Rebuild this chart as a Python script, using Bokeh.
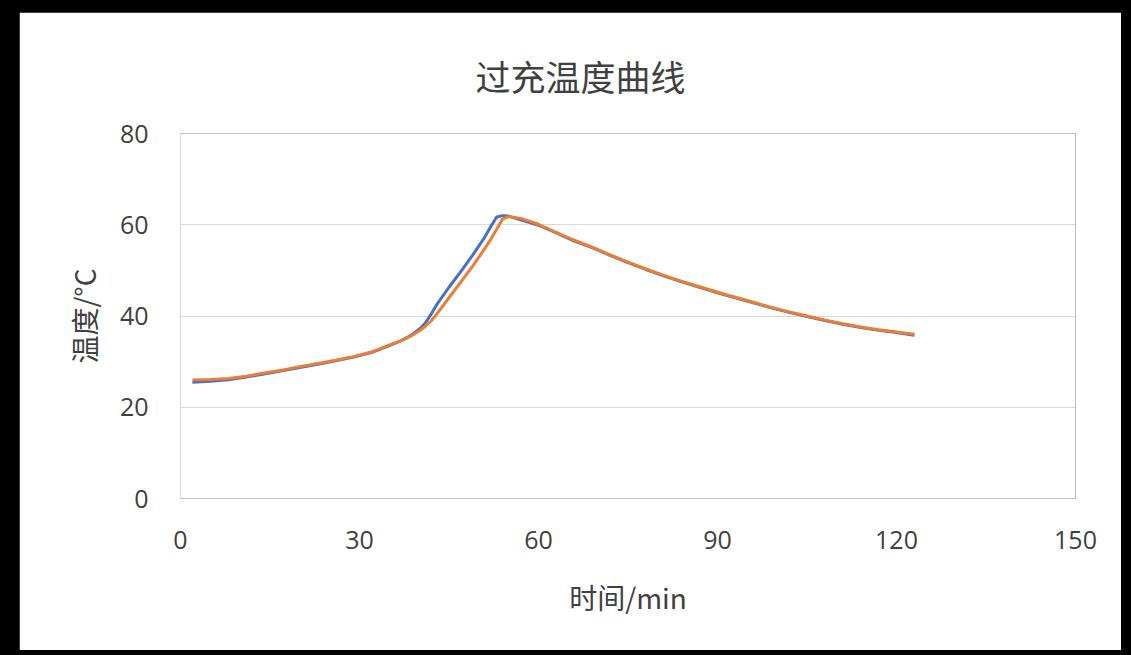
from bokeh.plotting import figure
from bokeh.models import FixedTicker, Range1d
from bokeh.embed import file_html
from bokeh.resources import INLINE

# ---- data ----
time_min = [2, 5, 8, 11, 14, 17, 20, 23, 26, 29, 32, 35, 37, 38, 39, 40, 41, 42, 43, 45, 47, 49,
            51, 52, 53, 54, 55, 57, 60, 63, 66, 69, 72, 75, 78, 81, 84, 87, 90, 93, 96, 99,
            102, 105, 108, 111, 114, 117, 120, 123]
temp_blue = [25.5, 25.7, 26.0, 26.6, 27.3, 28.0, 28.7, 29.4, 30.2, 31.0, 32.0, 33.5, 34.6, 35.3,
             36.1, 37.1, 38.4, 40.4, 42.6, 46.3, 49.8, 53.4, 57.3, 59.6, 61.7, 62.0, 61.9, 61.1,
             59.9, 58.2, 56.4, 55.0, 53.3, 51.7, 50.2, 48.8, 47.5, 46.3, 45.1, 44.0, 42.9, 41.8,
             40.8, 39.9, 39.0, 38.2, 37.5, 36.9, 36.4, 35.8]
temp_orange = [26.0, 26.1, 26.3, 26.8, 27.5, 28.1, 28.9, 29.6, 30.3, 31.1, 32.1, 33.6, 34.6, 35.2,
               35.9, 36.7, 37.7, 38.9, 40.5, 44.0, 47.5, 51.0, 54.8, 56.8, 59.0, 61.3, 61.8, 61.4,
               60.1, 58.3, 56.6, 55.1, 53.4, 51.8, 50.3, 48.9, 47.6, 46.4, 45.2, 44.1, 43.0, 41.9,
               40.9, 40.0, 39.1, 38.3, 37.6, 37.0, 36.5, 36.0]
x_ticks = [0, 30, 60, 90, 120, 150]
y_ticks = [0, 20, 40, 60, 80]

title_text = "过充温度曲线"
x_label = "时间/min"
y_label = "温度/°C"

FONT = "Noto Sans CJK SC"
NUM_FONT = "Open Sans"
TXT = "#404040"
GRID = "#d9d9d9"

p = figure(width=1102, height=638, output_backend="svg", toolbar_location=None,
           x_range=Range1d(0, 150), y_range=Range1d(0, 80),
           min_border_left=161, min_border_right=46, min_border_top=121, min_border_bottom=152)
p.background_fill_color = "white"
p.border_fill_color = "white"
p.outline_line_color = None

p.title.text = title_text
p.title.align = "left"
p.title.offset = 295
p.title.standoff = 62
p.title.vertical_align = "top"
p.title.text_font = FONT
p.title.text_font_size = "35px"
p.title.text_font_style = "normal"
p.title.text_color = TXT

p.xaxis.ticker = FixedTicker(ticks=x_ticks)
p.yaxis.ticker = FixedTicker(ticks=y_ticks)
for ax in (p.xaxis[0], p.yaxis[0]):
    ax.major_tick_line_color = None
    ax.minor_tick_line_color = None
    ax.major_label_text_font = NUM_FONT
    ax.major_label_text_font_size = "25px"
    ax.major_label_text_color = TXT
    ax.axis_label_text_font = FONT
    ax.axis_label_text_font_size = "28px"
    ax.axis_label_text_font_style = "normal"
    ax.axis_label_text_color = TXT

p.xaxis.axis_line_color = None
p.xaxis.major_label_standoff = 26
p.xaxis.axis_label = x_label
p.xaxis.axis_label_standoff = 25

p.yaxis.axis_line_color = GRID
p.yaxis.major_label_standoff = 26
p.yaxis.axis_label = y_label
p.yaxis.axis_label_standoff = 13

p.xgrid.grid_line_color = None
p.ygrid.grid_line_color = GRID
p.ygrid.grid_line_width = 1

p.line(time_min, temp_blue, line_color="#4472C4", line_width=3, line_join="round")
p.line(time_min, temp_orange, line_color="#ED7D31", line_width=3, line_join="round")

html = file_html(p, INLINE)
html = html.replace("</head>",
                    "<style>html,body{background:#000;}body{margin:12px 0 0 19px;}</style></head>", 1)
open("out.html", "w").write(html)
